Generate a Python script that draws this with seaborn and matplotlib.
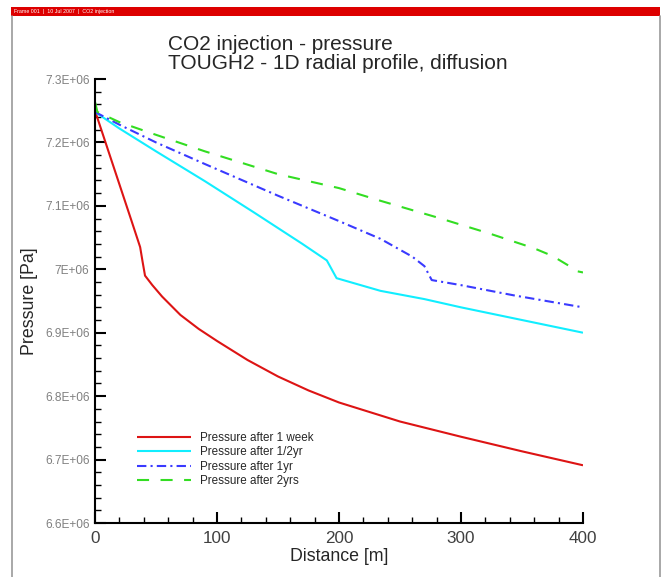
import numpy as np
import pandas as pd
import seaborn as sns
from matplotlib import pyplot as plt
from matplotlib.lines import Line2D
from matplotlib.patches import Rectangle

# pressure profiles (distance in m, pressure in Pa)
dist_week = [0, 10, 20, 30, 37, 39, 41, 47, 55, 70, 85, 100, 125, 150, 175, 200, 250, 300, 350, 400]
pres_week = [7.250e6, 7.192e6, 7.134e6, 7.076e6, 7.035e6, 7.012e6, 6.990e6, 6.975e6, 6.957e6,
             6.928e6, 6.906e6, 6.887e6, 6.857e6, 6.831e6, 6.809e6, 6.790e6, 6.760e6, 6.736e6, 6.713e6, 6.691e6]

dist_half = [0, 20, 50, 90, 130, 170, 190, 194, 198, 234, 270, 300, 350, 400]
pres_half = [7.248e6, 7.222e6, 7.186e6, 7.139e6, 7.090e6, 7.040e6, 7.014e6, 7.000e6, 6.986e6, 6.966e6,
             6.953e6, 6.940e6, 6.920e6, 6.900e6]

dist_1yr = [0, 20, 50, 90, 150, 200, 234, 260, 270, 276, 300, 343, 400]
pres_1yr = [7.248e6, 7.228e6, 7.200e6, 7.166e6, 7.116e6, 7.076e6, 7.048e6, 7.020e6, 7.005e6, 6.983e6,
            6.975e6, 6.959e6, 6.940e6]

dist_2yr = [0, 2, 20, 50, 90, 150, 200, 234, 280, 324, 360, 375, 388, 395, 400]
pres_2yr = [7.264e6, 7.248e6, 7.232e6, 7.212e6, 7.186e6, 7.150e6, 7.128e6, 7.108e6, 7.082e6, 7.056e6,
            7.033e6, 7.021e6, 7.006e6, 6.997e6, 6.995e6]

labels = ['Pressure after 1 week', 'Pressure after 1/2yr', 'Pressure after 1yr', 'Pressure after 2yrs']
colors = ['#dd1414', '#11eeff', '#3a3aff', '#33dd22']
styles = ['-', '-', (0, (4.5, 2, 1, 2)), (0, (5.8, 5.5))]

y_ticks = [6.6e6, 6.7e6, 6.8e6, 6.9e6, 7.0e6, 7.1e6, 7.2e6, 7.3e6]
y_ticklabels = ['6.6E+06', '6.7E+06', '6.8E+06', '6.9E+06', '7E+06', '7.1E+06', '7.2E+06', '7.3E+06']
x_ticks = [0, 100, 200, 300, 400]

sns.set_style("ticks")
plt.rcParams['font.family'] = ['Liberation Sans', 'DejaVu Sans']

W, H = 663, 577
fig = plt.figure(figsize=(W / 100, H / 100), dpi=100)

# tecplot style frame and header bar
fig.patches.append(Rectangle((11 / W, 1 - 16 / H), 649 / W, 9 / H, transform=fig.transFigure,
                             facecolor='#dd0000', edgecolor='none'))
fig.text(14 / W, 1 - 11.5 / H, 'Frame 001  |  10 Jul 2007  |  CO2 injection', color='white',
         fontsize=3.8, va='center', ha='left')
for xpix in (11.5, 659.5):
    fig.add_artist(Line2D([xpix / W, xpix / W], [0, 1 - 16 / H], transform=fig.transFigure,
                          color='#999999', lw=1.2))

ax = fig.add_axes([95 / W, 1 - 523 / H, 488 / W, 444 / H])

series = [(dist_week, pres_week), (dist_half, pres_half), (dist_1yr, pres_1yr), (dist_2yr, pres_2yr)]
for (xs, ys), lab, col, ls in zip(series, labels, colors, styles):
    df = pd.DataFrame({'Distance': xs, 'Pressure': ys})
    sns.lineplot(data=df, x='Distance', y='Pressure', ax=ax, color=col, label=lab,
                 linewidth=1.5, linestyle=ls, solid_capstyle='butt', dash_capstyle='butt')

ax.set_xlim(0, 400)
ax.set_ylim(6.6e6, 7.3e6)
ax.set_xticks(x_ticks)
ax.set_xticks(np.arange(0, 401, 20), minor=True)
ax.set_yticks(y_ticks)
ax.set_yticklabels(y_ticklabels)
ax.set_yticks(np.arange(6.6e6, 7.3e6 + 1, 0.02e6), minor=True)

sns.despine(ax=ax)
for s in ('left', 'bottom'):
    ax.spines[s].set_linewidth(1.5)
    ax.spines[s].set_color('black')

ax.tick_params(axis='both', which='major', direction='in', length=8, width=1.5, color='black')
ax.tick_params(axis='both', which='minor', direction='in', length=4, width=1.0, color='black')
ax.tick_params(axis='y', which='major', labelsize=8.6, labelcolor='#808080', pad=4)
ax.tick_params(axis='x', which='major', labelsize=12.3, labelcolor='#404040', pad=6)

ax.set_xlabel('Distance [m]', fontsize=12.8)
ax.set_ylabel('Pressure [Pa]', fontsize=12.8)
ax.xaxis.set_label_coords(0.5, -0.057)
ax.yaxis.set_label_coords(-0.116, 0.5)

ax.legend(loc='upper left', bbox_to_anchor=(0.086, 0.205), frameon=False, fontsize=8.4,
          handlelength=4.6, handletextpad=0.8, labelspacing=0.2, borderpad=0, borderaxespad=0)

fig.text(168 / W, 1 - 54 / H, 'CO2 injection - pressure\nTOUGH2 - 1D radial profile, diffusion',
         fontsize=15, ha='left', va='center', linespacing=0.98)

fig.savefig('out.png', dpi=100)
